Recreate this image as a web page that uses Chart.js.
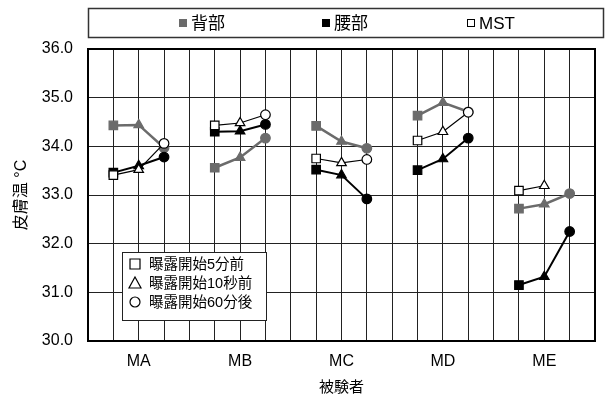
<!DOCTYPE html>
<html>
<head>
<meta charset="utf-8">
<script src="https://cdn.jsdelivr.net/npm/chart.js@4.4.1/dist/chart.umd.min.js"></script>
<style>
  body { margin: 0; background: #fff; }
</style>
</head>
<body>
<canvas id="skin_chart" width="606" height="401"></canvas>
<script>
// subjects and the three timings per subject
const subjects = ['MA', 'MB', 'MC', 'MD', 'ME'];
const timings = ['曝露開始5分前', '曝露開始10秒前', '曝露開始60分後'];
const seriesNames = ['背部', '腰部', 'MST'];

// skin temperature, subject x timing (MA 5分前, MA 10秒前, MA 60分後, MB ...)
const backTemp  = [34.43, 34.44, 33.97,  33.56, 33.77, 34.17,  34.42, 34.10, 33.96,  34.63, 34.90, 34.71,  32.72, 32.81, 33.03];
const waistTemp = [33.46, 33.60, 33.78,  34.30, 34.31, 34.45,  33.52, 33.41, 32.92,  33.51, 33.74, 34.17,  31.15, 31.32, 32.25];
const mstTemp   = [33.41, 33.52, 34.06,  34.43, 34.48, 34.65,  33.75, 33.66, 33.73,  34.12, 34.30, 34.70,  33.09, 33.19, null];

const yTicks = [30, 31, 32, 33, 34, 35, 36];

const FONT = "'Liberation Sans', 'Noto Sans CJK JP', sans-serif";
Chart.defaults.font.family = FONT;
Chart.defaults.color = '#000';

const shapes = ['rect', 'triangle', 'circle', 'circle'];
const radii = [6, 5.5, 4.8, 0];

// one point per slot, a null after each subject so the line breaks
function build_points(vals) {
    let pts = [];
    subjects.forEach(function (s, i) {
        timings.forEach(function (t, j) {
            pts.push({ x: 4 * i + j + 1, y: vals[i * 3 + j] });
        });
        pts.push({ x: 4 * i + 4, y: null });
    });
    return pts;
}

function make_set(label, vals, line, fill, width, order) {
    return {
        label: label,
        data: build_points(vals),
        borderColor: line,
        backgroundColor: fill,
        pointBackgroundColor: fill,
        pointBorderColor: line,
        pointBorderWidth: 1.2,
        borderWidth: width,
        pointStyle: ctx => shapes[ctx.dataIndex % 4],
        pointRadius: ctx => radii[ctx.dataIndex % 4],
        tension: 0,
        spanGaps: false,
        order: order
    };
}

let datasets = [
    make_set(seriesNames[0], backTemp, '#6b6b6b', '#6b6b6b', 2.5, 2),
    make_set(seriesNames[1], waistTemp, '#000', '#000', 2, 1),
    make_set(seriesNames[2], mstTemp, '#000', '#fff', 1.2, 0)
];

// top legend inside a box
const topLegend = {
    id: 'topLegend',
    afterDraw(chart) {
        let ctx = chart.ctx;
        ctx.save();
        ctx.strokeStyle = '#333';
        ctx.lineWidth = 1.5;
        ctx.strokeRect(88.5, 8.5, 515, 29);
        let xs = [179, 322, 467];
        ctx.font = '17px ' + FONT;
        ctx.textBaseline = 'middle';
        ctx.fillStyle = '#000';
        chart.data.datasets.forEach(function (ds, i) {
            let x = xs[i], y = 23;
            ctx.fillStyle = ds.pointBackgroundColor;
            ctx.fillRect(x, y - 4, 8, 8);
            ctx.strokeStyle = ds.pointBorderColor;
            ctx.lineWidth = 1;
            ctx.strokeRect(x + 0.5, y - 3.5, 7, 7);
            ctx.fillStyle = '#000';
            ctx.fillText(ds.label, x + 12, y + 1);
        });
        ctx.restore();
    }
};

// timing legend inside the plot + thick frame
const innerLegend = {
    id: 'innerLegend',
    afterDraw(chart) {
        let ctx = chart.ctx, a = chart.chartArea;
        ctx.save();
        ctx.strokeStyle = '#000';
        ctx.lineWidth = 2;
        ctx.strokeRect(a.left, a.top, a.right - a.left, a.bottom - a.top);

        ctx.fillStyle = '#fff';
        ctx.fillRect(122, 252, 144, 68);
        ctx.strokeStyle = '#222';
        ctx.lineWidth = 1;
        ctx.strokeRect(122.5, 252.5, 144, 68);

        ctx.font = '14.5px ' + FONT;
        ctx.textBaseline = 'middle';
        ctx.lineWidth = 1.2;
        timings.forEach(function (t, i) {
            let cx = 135, cy = 264 + i * 19;
            ctx.strokeStyle = '#000';
            ctx.beginPath();
            if (i === 0) {
                ctx.rect(cx - 5, cy - 5, 10, 10);
            } else if (i === 1) {
                ctx.moveTo(cx, cy - 6);
                ctx.lineTo(cx + 6, cy + 5);
                ctx.lineTo(cx - 6, cy + 5);
                ctx.closePath();
            } else {
                ctx.arc(cx, cy, 5, 0, Math.PI * 2);
            }
            ctx.stroke();
            ctx.fillStyle = '#000';
            ctx.fillText(t, 149, cy + 1);
        });
        ctx.restore();
    }
};

var ctx = document.getElementById('skin_chart').getContext('2d');
new Chart(ctx, {
    type: 'line',
    data: { datasets: datasets },
    options: {
        responsive: false,
        animation: false,
        devicePixelRatio: 1,
        layout: { padding: { top: 49, right: 2, left: 0, bottom: 0 } },
        plugins: {
            legend: { display: false },
            tooltip: { enabled: false }
        },
        scales: {
            x: {
                type: 'linear',
                min: 0,
                max: 20,
                afterFit: s => { s.height = 60; },
                grid: { color: '#222', lineWidth: 1, drawTicks: false },
                border: { display: false },
                ticks: {
                    stepSize: 1,
                    autoSkip: false,
                    maxRotation: 0,
                    padding: 11,
                    font: { size: 16 },
                    callback: v => (v % 4 === 2 ? subjects[(v - 2) / 4] : '')
                },
                title: {
                    display: true,
                    text: '被験者',
                    font: { size: 15 },
                    padding: { top: 0, bottom: 4 }
                }
            },
            y: {
                min: yTicks[0],
                max: yTicks[yTicks.length - 1],
                afterFit: s => { s.width = 88; },
                afterBuildTicks: s => { s.ticks = yTicks.map(v => ({ value: v })); },
                grid: { color: '#222', lineWidth: 1, drawTicks: false },
                border: { display: false },
                ticks: {
                    padding: 15,
                    font: { size: 16 },
                    callback: v => v.toFixed(1)
                },
                title: {
                    display: true,
                    text: '皮膚温 °C',
                    font: { size: 16 },
                    padding: { top: 12, bottom: 0 }
                }
            }
        }
    },
    plugins: [topLegend, innerLegend]
});
</script>
</body>
</html>
